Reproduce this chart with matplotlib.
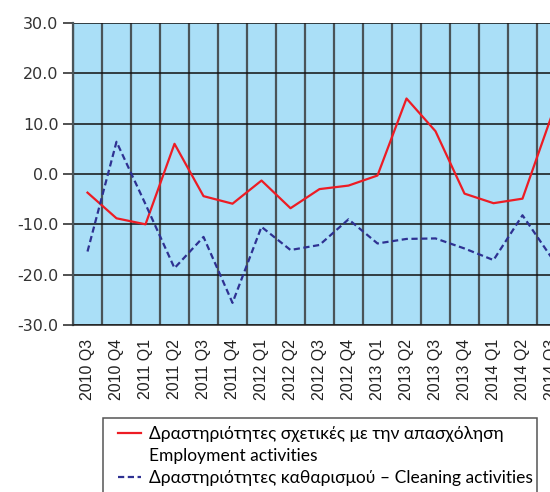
import matplotlib
matplotlib.use("Agg")
import matplotlib.pyplot as plt
from matplotlib.lines import Line2D
from matplotlib.patches import Rectangle

# quarterly percentage changes
quarters = ["2010 Q3", "2010 Q4", "2011 Q1", "2011 Q2", "2011 Q3", "2011 Q4",
            "2012 Q1", "2012 Q2", "2012 Q3", "2012 Q4", "2013 Q1", "2013 Q2",
            "2013 Q3", "2013 Q4", "2014 Q1", "2014 Q2", "2014 Q3"]
employment = [-3.7, -8.8, -10.0, 6.0, -4.4, -5.9, -1.3, -6.8, -3.0, -2.3,
              -0.3, 15.0, 8.5, -3.9, -5.8, -4.9, 11.5]
cleaning = [-15.4, 6.4, -6.0, -18.7, -12.5, -25.6, -10.5, -15.1, -14.1, -9.0,
            -13.8, -12.9, -12.8, -14.8, -17.1, -8.2, -16.6]

label_emp = "Δραστηριότητες σχετικές με την απασχόληση"
label_emp_en = "Employment activities"
label_cln = "Δραστηριότητες καθαρισμού – Cleaning activities"

W, H = 550, 492
fig = plt.figure(figsize=(W / 100, H / 100), dpi=100)
ax = fig.add_axes([73 / W, (H - 325) / H, (566 - 73) / W, 302 / H])
ax.set_facecolor("#aadff7")

x = list(range(len(quarters)))
ax.plot(x, employment, color="#ed1c24", lw=1.6, zorder=3)
ax.plot(x, cleaning, color="#2e3192", lw=1.6, dashes=(2.8, 1.6), zorder=3)

ax.set_xlim(-0.5, len(quarters) - 0.5)
ax.set_ylim(-30, 30)
ax.set_yticks(range(-30, 31, 10))
ax.set_yticklabels([f"{v:.1f}" for v in range(-30, 31, 10)],
                   fontsize=11.5, color="#333333")
ax.set_xticks(x)
ax.set_xticklabels(quarters, rotation=90, fontsize=11.5,
                   family="Liberation Sans", color="#222222")
ax.set_xticks([i - 0.5 for i in range(len(quarters) + 1)], minor=True)

ax.tick_params(axis="y", length=7.5, width=1.1, pad=3, color="#222222")
ax.tick_params(axis="x", which="both", length=0, pad=10)
ax.grid(axis="y", which="major", color="#111111", lw=1.1)
ax.grid(axis="x", which="minor", color="#4a5458", lw=1.6)

for side in ["top", "right"]:
    ax.spines[side].set_visible(False)
ax.spines["left"].set_color("#4a5458")
ax.spines["left"].set_linewidth(1.6)
ax.spines["bottom"].set_color("#222222")
ax.spines["bottom"].set_linewidth(1.1)

handles = [Line2D([], [], color="#ed1c24", lw=1.6),
           Line2D([], [], color="none"),
           Line2D([], [], color="#2e3192", lw=1.6, dashes=(2.8, 1.6))]
fig.legend(handles, [label_emp, label_emp_en, label_cln],
           loc="upper left", bbox_to_anchor=(118 / W, 1 - 426 / H),
           frameon=False, borderpad=0, borderaxespad=0, labelspacing=0.36,
           handlelength=1.35, handletextpad=0.45,
           prop={"family": ["Lato", "DejaVu Sans"], "size": 12.5})
fig.patches.append(Rectangle((103 / W, -0.05), (537 - 103) / W,
                             (H - 418) / H + 0.05, transform=fig.transFigure,
                             fill=False, ec="#555555", lw=1.1))

fig.savefig("out.png", dpi=100)
